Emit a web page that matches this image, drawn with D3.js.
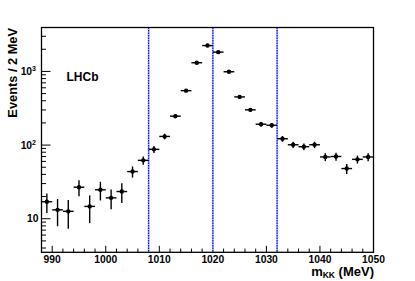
<!DOCTYPE html>
<html>
<head>
<meta charset="utf-8">
<script src="https://d3js.org/d3.v7.min.js"></script>
<style>
  body { margin: 0; background: #fff; }
  text { font-family: "Liberation Sans", Arial, Helvetica, sans-serif; font-weight: bold; }
</style>
</head>
<body>
<div id="chart"></div>
<script>
// Graph dimension settings
const W = 415, H = 281;
const frame = { left: 41.5, top: 27.5, right: 373.5, bottom: 252.3 };

// Bin centres (MeV), counts and errors
const binCenters = [989, 991, 993, 995, 997, 999, 1001, 1003, 1005, 1007, 1009, 1011, 1013, 1015, 1017, 1019,
    1021, 1023, 1025, 1027, 1029, 1031, 1033, 1035, 1037, 1039, 1041, 1043, 1045, 1047, 1049];
const counts = [17, 13.2, 12.6, 26.8, 14.7, 24.7, 19.2, 23.4, 43.7, 62, 87.5, 131, 247, 548, 1312, 2245,
    1829, 990, 451, 301, 192, 186, 122, 101, 95, 101, 69, 70, 48, 64, 69];
const errors = [5, 5.3, 5.3, 6.6, 6, 7, 5.8, 7, 7.5, 8, 9.5, 11.5, 16, 23, 36, 47,
    43, 31, 21, 17, 14, 14, 11, 10, 10, 10, 8.5, 8.5, 7.5, 8, 8.5];
const binWidth = 2;

// Vertical marker lines (MeV)
const cutLines = [1008, 1020, 1032];

// Axis ticks
const xMajor = [990, 1000, 1010, 1020, 1030, 1040, 1050];
const yMajor = [10, 100, 1000];

const svg = d3.select("#chart").append("svg")
    .attr("width", W)
    .attr("height", H);

// Scales
const x = d3.scaleLinear().domain([988, 1050]).range([frame.left, frame.right]);
const y = d3.scaleLog().domain([3.5, 3950]).range([frame.bottom, frame.top]);

// Minor ticks: every 2 MeV on x, 2..9 per decade on y
const xMinor = d3.range(988, 1050.1, 2).filter(v => v % 10 !== 0);
const yMinor = [];
[1, 10, 100, 1000].forEach(function (d) {
    for (let k = 2; k <= 9; k++) {
        const v = d * k;
        if (v >= 3.5 && v <= 3950) yMinor.push(v);
    }
});

// x ticks (inside the frame, bottom only)
svg.selectAll(".xmaj").data(xMajor).join("line")
    .attr("x1", d => x(d)).attr("x2", d => x(d))
    .attr("y1", frame.bottom).attr("y2", frame.bottom - 6.5)
    .attr("stroke", "#000").attr("stroke-width", 1);
svg.selectAll(".xmin").data(xMinor).join("line")
    .attr("x1", d => x(d)).attr("x2", d => x(d))
    .attr("y1", frame.bottom).attr("y2", frame.bottom - 3.7)
    .attr("stroke", "#000").attr("stroke-width", 1);

// y ticks (inside the frame, left only)
svg.selectAll(".ymaj").data(yMajor).join("line")
    .attr("x1", frame.left).attr("x2", frame.left + 9)
    .attr("y1", d => y(d)).attr("y2", d => y(d))
    .attr("stroke", "#000").attr("stroke-width", 1);
svg.selectAll(".ymin").data(yMinor).join("line")
    .attr("x1", frame.left).attr("x2", frame.left + 4.5)
    .attr("y1", d => y(d)).attr("y2", d => y(d))
    .attr("stroke", "#000").attr("stroke-width", 1);

// x tick labels
svg.selectAll(".xlab").data(xMajor).join("text")
    .attr("x", d => x(d))
    .attr("y", 262.5)
    .attr("text-anchor", "middle")
    .style("font-size", "10.3px")
    .text(d => d);

// y tick labels (10, 10^2, 10^3)
const ylab = svg.selectAll(".ylab").data(yMajor).join("text")
    .attr("x", 36)
    .attr("y", d => y(d) + 3.5)
    .attr("text-anchor", "end")
    .style("font-size", "10.3px");
ylab.each(function (d) {
    const t = d3.select(this);
    const p = Math.round(Math.log10(d));
    if (p === 1) {
        t.attr("x", 38.5).text("10");
    } else {
        t.append("tspan").text("10");
        t.append("tspan").attr("dy", -4).style("font-size", "7px").text(p);
    }
});

// Vertical cut lines: light blue band with blue dashes on top
svg.selectAll(".cutbg").data(cutLines).join("line")
    .attr("x1", d => x(d)).attr("x2", d => x(d))
    .attr("y1", frame.top).attr("y2", frame.bottom)
    .attr("stroke", "#b4b8ff").attr("stroke-width", 2);
svg.selectAll(".cut").data(cutLines).join("line")
    .attr("x1", d => x(d)).attr("x2", d => x(d))
    .attr("y1", frame.top).attr("y2", frame.bottom)
    .attr("stroke", "#1010ff").attr("stroke-width", 1.2)
    .attr("stroke-dasharray", "1.5,1");

// Data points with error bars
const pts = binCenters.map((c, i) => ({ c: c, n: counts[i], e: errors[i] }));
const g = svg.selectAll(".pt").data(pts).join("g");
g.append("line")
    .attr("x1", d => x(d.c - binWidth / 2)).attr("x2", d => x(d.c + binWidth / 2))
    .attr("y1", d => y(d.n)).attr("y2", d => y(d.n))
    .attr("stroke", "#000").attr("stroke-width", 1.4);
g.append("line")
    .attr("x1", d => x(d.c)).attr("x2", d => x(d.c))
    .attr("y1", d => y(d.n + d.e)).attr("y2", d => y(d.n - d.e))
    .attr("stroke", "#000").attr("stroke-width", 1.4);
g.append("circle")
    .attr("cx", d => x(d.c)).attr("cy", d => y(d.n))
    .attr("r", 2.2)
    .attr("fill", "#000");

// Frame
svg.append("rect")
    .attr("x", frame.left).attr("y", frame.top)
    .attr("width", frame.right - frame.left)
    .attr("height", frame.bottom - frame.top)
    .attr("fill", "none")
    .attr("stroke", "#000").attr("stroke-width", 1.3);

// LHCb label
svg.append("text")
    .attr("x", 66.5).attr("y", 80.5)
    .style("font-size", "12px")
    .text("LHCb");

// Axis titles
const xt = svg.append("text")
    .attr("x", 374).attr("y", 275.5)
    .attr("text-anchor", "end")
    .style("font-size", "13px");
xt.append("tspan").text("m");
xt.append("tspan").attr("dy", 2.5).style("font-size", "8.5px").text("KK");
xt.append("tspan").attr("dy", -2.5).text(" (MeV)");

svg.append("text")
    .attr("transform", "translate(16.5,28) rotate(-90)")
    .attr("text-anchor", "end")
    .style("font-size", "12.8px")
    .text("Events / 2 MeV");
</script>
</body>
</html>
